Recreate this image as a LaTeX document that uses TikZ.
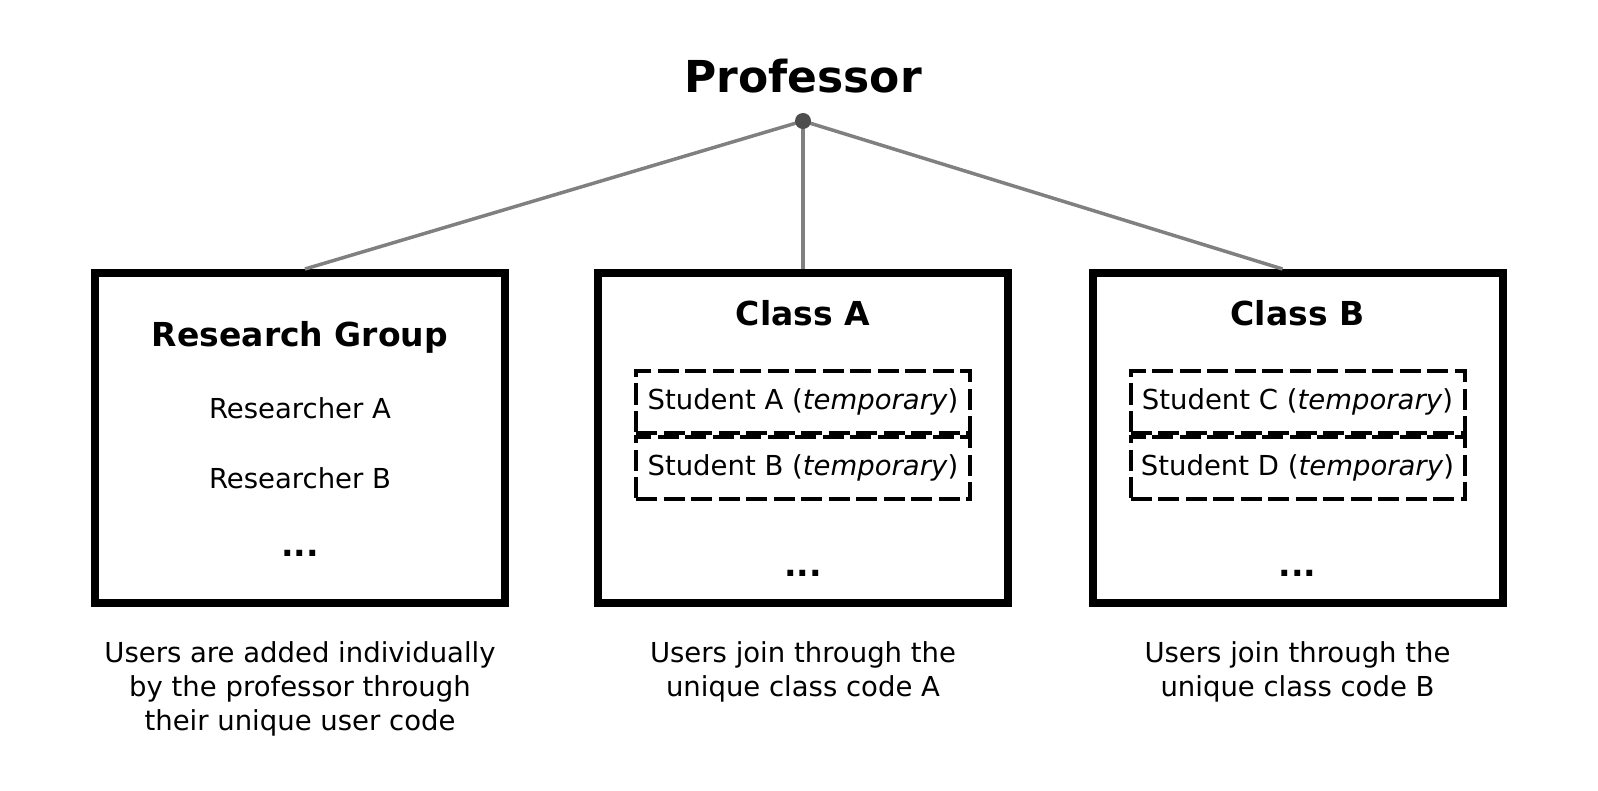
\documentclass[tikz,border=0pt]{standalone}
\usepackage{fontspec}
\setmainfont{DejaVu Sans}
\usetikzlibrary{positioning, calc}
\definecolor{LinkGray}{HTML}{808080}
\definecolor{HubGray}{HTML}{4D4D4D}
\tikzset{
    % Plain text everywhere
    every node/.style={font=\fontsize{27.5}{34}\selectfont, inner sep=0pt},
    % Top title
    toptitle/.style={anchor=base, font=\fontsize{44}{50}\selectfont\bfseries},
    % Group container
    group/.style={
        rectangle,
        draw=black,
        line width=8pt,
        minimum width=410pt,
        minimum height=330pt
    },
    % Group title
    grouptitle/.style={anchor=base, font=\fontsize{33}{40}\selectfont\bfseries},
    % Permanent member
    member/.style={anchor=base},
    % Temporary member
    tempmember/.style={
        rectangle,
        draw=black,
        line width=4pt,
        dash pattern=on 21pt off 6.5pt,
        minimum width=334pt,
        minimum height=62pt
    },
    % More members
    more/.style={anchor=base, font=\fontsize{33}{40}\selectfont\bfseries},
    % Caption under a group
    note/.style={anchor=north, align=center},
    % Link from professor
    link/.style={draw=LinkGray, line width=3.5pt},
    % Hub dot
    hub/.style={circle, fill=HubGray, minimum size=16pt}
}

\begin{document}
\begin{tikzpicture}[x=1pt, y=-1pt]
    \useasboundingbox (0,0) rectangle (1598,791);

    % Professor
    \node (prof) [toptitle] at (803,93) {Professor};
    \coordinate (hub) at (803,121);

    % Groups
    \node (rg) [group] at (300,438) {};
    \node (ca) [group] at (803,438) {};
    \node (cb) [group] at (1297.5,438) {};

    % Links
    \draw [link] (hub) -- ($(rg.north)+(5,0)$);
    \draw [link] (hub) -- (ca.north);
    \draw [link] (hub) -- ($(cb.north)+(-15,0)$);
    \node (hubdot) [hub] at (hub) {};

    % Research group
    \node (rgtitle) [grouptitle] at (300,347) {Research Group};
    \node (resa) [member] at (300,418) {Researcher A};
    \node (resb) [member] at (300,488) {Researcher B};
    \node (rgmore) [more] at (300,556) {...};

    % Class A
    \node (catitle) [grouptitle] at (803,326) {Class A};
    \node (stua) [tempmember] at (803,402) {Student A (\textit{temporary})};
    \node (stub) [tempmember] at (803,468) {Student B (\textit{temporary})};
    \node (camore) [more] at (803,576) {...};

    % Class B
    \node (cbtitle) [grouptitle] at (1297.5,326) {Class B};
    \node (stuc) [tempmember] at (1297.5,402) {Student C (\textit{temporary})};
    \node (stud) [tempmember] at (1297.5,468) {Student D (\textit{temporary})};
    \node (cbmore) [more] at (1297.5,576) {...};

    % Captions
    \node (rgnote) [note] at (300,641) {Users are added individually\\by the professor through\\their unique user code};
    \node (canote) [note] at (803,641) {Users join through the\\unique class code A};
    \node (cbnote) [note] at (1297.5,641) {Users join through the\\unique class code B};
\end{tikzpicture}
\end{document}
